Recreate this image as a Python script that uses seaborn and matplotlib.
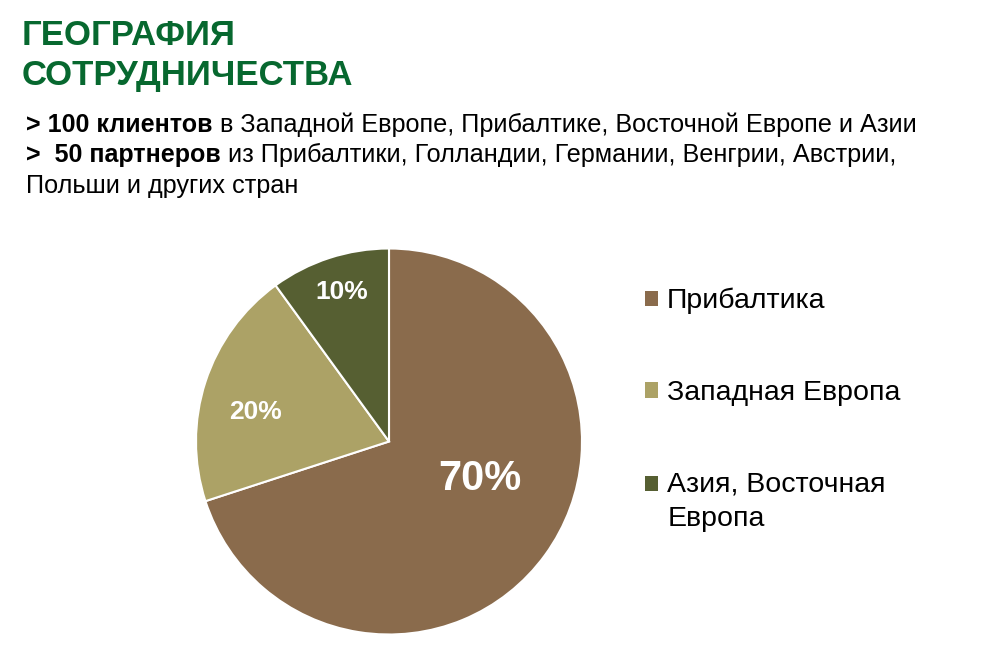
import matplotlib
matplotlib.use("Agg")
import matplotlib.pyplot as plt
import seaborn as sns
from matplotlib.patches import Patch, Rectangle
from matplotlib.legend_handler import HandlerPatch

# data
regions = ["Прибалтика", "Западная Европа", "Азия, Восточная\nЕвропа"]
shares = [70, 20, 10]
colors = ["#8A6B4C", "#ACA266", "#565F32"]

title_lines = ["ГЕОГРАФИЯ", "СОТРУДНИЧЕСТВА"]
body_lines = [
    [("> 100 клиентов", "bold"), (" в Западной Европе, Прибалтике, Восточной Европе и Азии", "normal")],
    [(">  50 партнеров", "bold"), (" из Прибалтики, Голландии, Германии, Венгрии, Австрии,", "normal")],
    [("Польши и других стран", "normal")],
]

sns.set_theme(style="white")
plt.rcParams["font.family"] = ["Liberation Sans", "DejaVu Sans"]
plt.rcParams["text.color"] = "black"

W, H = 997, 651
fig = plt.figure(figsize=(W / 100, H / 100), dpi=100)
fig.patch.set_facecolor("white")

# title
green = "#07682F"
for i, line in enumerate(title_lines):
    fig.text(22 / W, 1 - (45 + 40 * i) / H, line, fontsize=25, fontweight="bold",
             color=green, va="baseline", ha="left")

# body text with bold/regular runs
renderer = fig.canvas.get_renderer()
for i, runs in enumerate(body_lines):
    x = 26
    y = 1 - (132 + 30.5 * i) / H
    for txt, weight in runs:
        size = 18 if weight == "bold" else 18.2
        t = fig.text(x / W, y, txt, fontsize=size, fontweight=weight, color="black",
                     va="baseline", ha="left")
        x += t.get_window_extent(renderer).width

# pie
cx, cy, r = 389, 441.5, 193
ax = fig.add_axes([(cx - r) / W, (H - cy - r) / H, 2 * r / W, 2 * r / H])
wedges, texts, autotexts = ax.pie(
    shares, colors=colors, startangle=90, counterclock=False,
    autopct="%d%%", textprops=dict(color="white", fontweight="bold"),
    wedgeprops=dict(edgecolor="white", linewidth=1.5))
ax.set_xlim(-1, 1)
ax.set_ylim(-1, 1)
ax.set_aspect("equal")

label_pos = [(0.472, -0.195), (-0.694, 0.155), (-0.246, 0.777)]
label_size = [30, 19, 19]
for t, p, s in zip(autotexts, label_pos, label_size):
    t.set_position(p)
    t.set_fontsize(s)
    t.set_ha("center")
    t.set_va("center")


# keep the square next to the first line of a two-line label
def square(legend, orig_handle, xdescent, ydescent, width, height, fontsize):
    shift = 0.63 * fontsize if getattr(orig_handle, "two_lines", False) else 0
    return Rectangle((-xdescent, -ydescent + shift), width, height)


handles = []
for c, lab in zip(colors, regions):
    p = Patch(facecolor=c, edgecolor="none")
    p.two_lines = "\n" in lab
    handles.append(p)

leg = ax.legend(handles, regions, loc="upper left",
                bbox_to_anchor=(645 / W, 1 - 288 / H), bbox_transform=fig.transFigure,
                frameon=False, fontsize=20.5, handlelength=0.46, handleheight=0.46,
                handletextpad=0.32, labelspacing=2.3, borderpad=0, borderaxespad=0,
                labelcolor="black", handler_map={Patch: HandlerPatch(patch_func=square)})
for t in leg.get_texts():
    t.set_linespacing(1.43)

fig.savefig("out.png", dpi=100, facecolor="white")
